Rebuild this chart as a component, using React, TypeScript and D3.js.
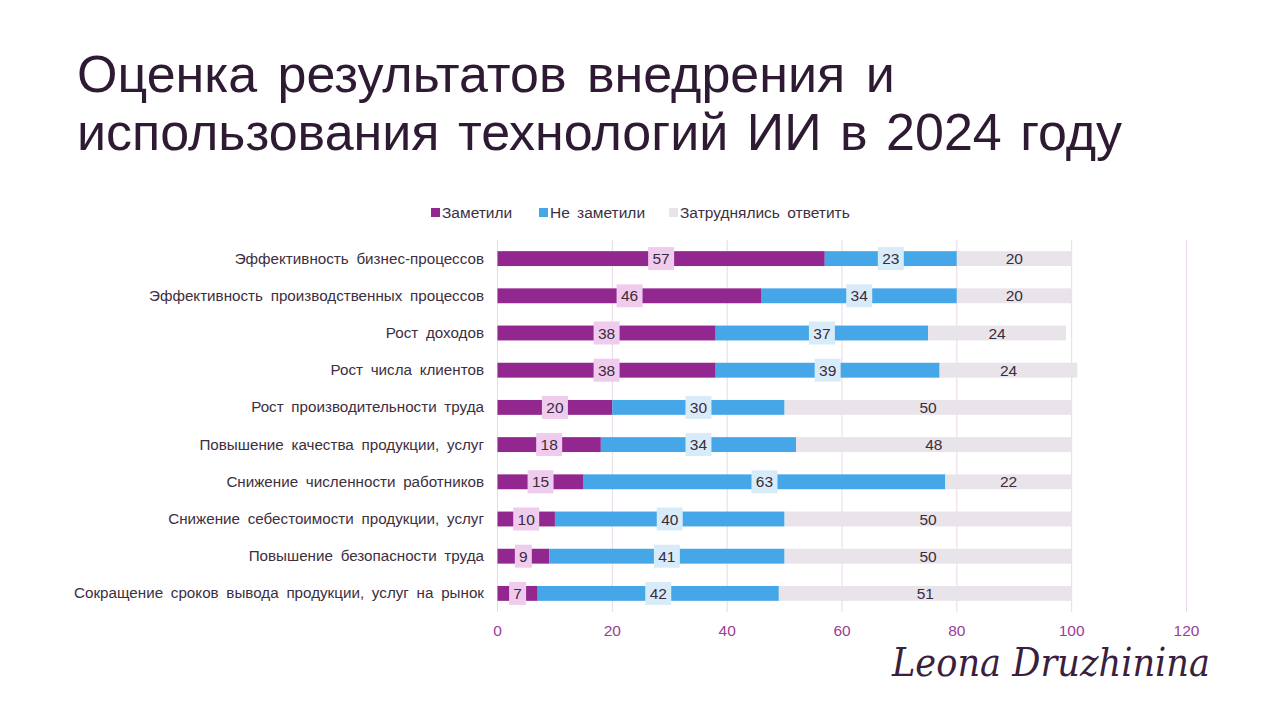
import React from "react";
import * as d3 from "d3";

const categories = [
  "Эффективность бизнес-процессов",
  "Эффективность производственных процессов",
  "Рост доходов",
  "Рост числа клиентов",
  "Рост производительности труда",
  "Повышение качества продукции, услуг",
  "Снижение численности работников",
  "Снижение себестоимости продукции, услуг",
  "Повышение безопасности труда",
  "Сокращение сроков вывода продукции, услуг на рынок",
];
const noticed = [57, 46, 38, 38, 20, 18, 15, 10, 9, 7];
const notNoticed = [23, 34, 37, 39, 30, 34, 63, 40, 41, 42];
const hardToSay = [20, 20, 24, 24, 50, 48, 22, 50, 50, 51];
const seriesNames = ["Заметили", "Не заметили", "Затруднялись ответить"];
const xTicks = [0, 20, 40, 60, 80, 100, 120];

const colors = ["#92278f", "#45a6e8", "#e9e4ea"];
const labelBg = ["#efcbee", "#d8ebf9", null];
const FONT = "'Liberation Sans', Arial, sans-serif";

export default function App() {
  const x = d3.scaleLinear().domain([0, 120]).range([497.5, 1186.5]);
  const y = d3.scaleBand<string>().domain(categories).range([240, 612]).paddingInner(0.6).paddingOuter(0.3);
  const series = [noticed, notNoticed, hardToSay];

  const segs: any[] = [];
  categories.forEach((c, i) => {
    let acc = 0;
    series.forEach((s, k) => {
      const v = s[i];
      segs.push({ c, k, v, x0: acc, x1: acc + v });
      acc += v;
    });
  });

  const bw = y.bandwidth();
  const legendItems = [
    { x: 431, label: seriesNames[0] },
    { x: 539, label: seriesNames[1] },
    { x: 669, label: seriesNames[2] },
  ];

  return (
    <svg width={1280} height={720} style={{ display: "block", position: "absolute", left: 0, top: 0 }} fontFamily={FONT}>
      <rect width={1280} height={720} fill="#ffffff" />
      <text x={77} y={92} fontSize={52} fill="#2e1a33" style={{ wordSpacing: "6px" }}>
        Оценка результатов внедрения и
      </text>
      <text x={77} y={150} fontSize={52} fill="#2e1a33" style={{ wordSpacing: "4px" }}>
        использования технологий ИИ в 2024 году
      </text>

      {legendItems.map((l, k) => (
        <g key={k}>
          <rect x={l.x} y={208} width={9} height={9} fill={colors[k]} />
          <text x={l.x + 11} y={218} fontSize={15.5} fill="#3d2f3f" style={{ wordSpacing: "3px" }}>
            {l.label}
          </text>
        </g>
      ))}

      {xTicks.map((t) => (
        <g key={t}>
          <line x1={x(t)} x2={x(t)} y1={240} y2={612} stroke="#ead8ea" strokeWidth={1} />
          <text x={x(t)} y={636} fontSize={15.5} fill="#9b3c9b" textAnchor="middle">
            {t}
          </text>
        </g>
      ))}

      {categories.map((c) => (
        <text key={c} x={484} y={(y(c) as number) + bw / 2 + 5} fontSize={15.2} fill="#3d2f3f" textAnchor="end" style={{ wordSpacing: "3.5px" }}>
          {c}
        </text>
      ))}

      {segs.map((s, i) => (
        <rect key={i} x={x(s.x0)} y={y(s.c)} width={x(s.x1) - x(s.x0)} height={bw} fill={colors[s.k]} />
      ))}

      {segs.map((s, i) => {
        const cx = x((s.x0 + s.x1) / 2);
        const cy = (y(s.c) as number) + bw / 2;
        const w = String(s.v).length === 1 ? 17 : 26;
        return (
          <g key={"l" + i}>
            {labelBg[s.k] && <rect x={cx - w / 2} y={cy - 11.5} width={w} height={23} fill={labelBg[s.k] as string} />}
            <text x={cx} y={cy + 5.5} fontSize={15.5} fill="#3a2c3c" textAnchor="middle">
              {s.v}
            </text>
          </g>
        );
      })}

      <text x={892} y={676} fontSize={40} fill="#3a1f3f" fontStyle="italic" fontFamily="'DejaVu Serif', serif" textLength={318} lengthAdjust="spacingAndGlyphs">
        Leona Druzhinina
      </text>
    </svg>
  );
}
